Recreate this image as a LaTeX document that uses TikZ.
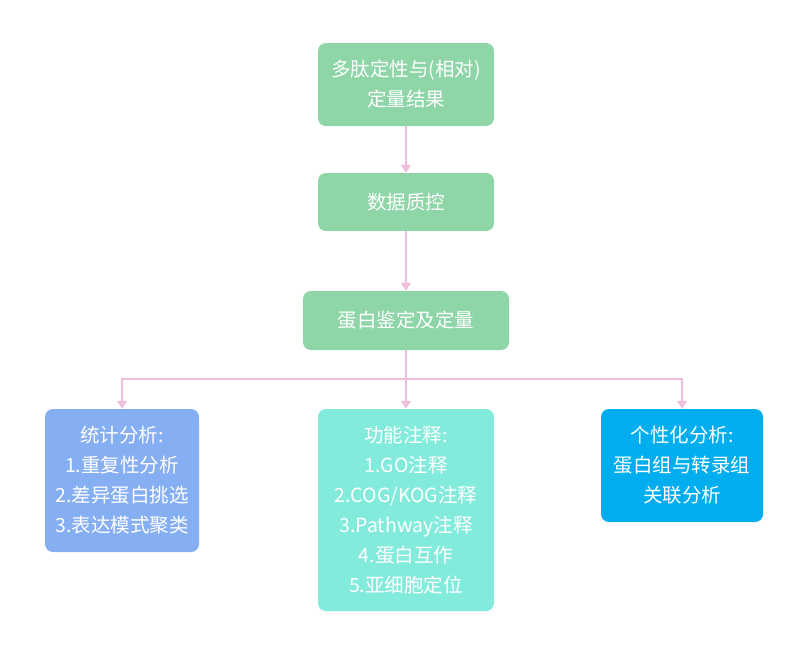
\documentclass[tikz,border=0pt]{standalone}
\usepackage{fontspec}
\setmainfont{Noto Sans CJK SC}
\usetikzlibrary{arrows.meta}

\definecolor{boxgreen}{HTML}{8ED5A8}
\definecolor{boxblue}{HTML}{86AEF3}
\definecolor{boxcyan}{HTML}{83EBDB}
\definecolor{boxsky}{HTML}{00AEEF}
\definecolor{linkpink}{HTML}{F0BEDD}

\tikzset{
  stepbox/.style={rounded corners=8pt, text=white, align=center,
    inner sep=0pt, font=\fontsize{19.5}{30}\selectfont},
  link/.style={draw=linkpink, line width=1.4pt,
    -{Triangle[width=10pt,length=8pt]}}
}

\begin{document}
\begin{tikzpicture}[x=1pt, y=-1pt]

    % Fix the page to the size of the picture
    \useasboundingbox (0,0) rectangle (800,649);

    % Define the centres of the boxes
    \coordinate (Cres)  at (406,84.5);
    \coordinate (Cqc)   at (406,202);
    \coordinate (Cid)   at (406,320.5);
    \coordinate (Cstat) at (122,480.5);
    \coordinate (Cfunc) at (406,510);
    \coordinate (Cpers) at (682,465.5);

    % Point where the three branches split
    \coordinate (split) at (406,379);

    % The main column of boxes
    \node[stepbox, fill=boxgreen, minimum width=176pt, minimum height=83pt]
      (res) at (Cres) {多肽定性与(相对)\\定量结果};
    \node[stepbox, fill=boxgreen, minimum width=176pt, minimum height=58pt]
      (qc) at (Cqc) {数据质控};
    \node[stepbox, fill=boxgreen, minimum width=206pt, minimum height=59pt]
      (id) at (Cid) {蛋白鉴定及定量};

    % The three analysis boxes
    \node[stepbox, fill=boxblue, minimum width=154pt, minimum height=143pt]
      (stat) at (Cstat) {统计分析:\\1.重复性分析\\2.差异蛋白挑选\\3.表达模式聚类};
    \node[stepbox, fill=boxcyan, minimum width=176pt, minimum height=202pt]
      (func) at (Cfunc) {功能注释:\\1.GO注释\\2.COG/KOG注释\\3.Pathway注释\\4.蛋白互作\\5.亚细胞定位};
    \node[stepbox, fill=boxsky, minimum width=162pt, minimum height=113pt]
      (pers) at (Cpers) {个性化分析:\\蛋白组与转录组\\关联分析};

    % Connectors
    \draw[link] (res) -- (qc);
    \draw[link] (qc) -- (id);
    \draw[draw=linkpink, line width=1.4pt] (id) -- (split);
    \draw[link] (split) -- (func);
    \draw[link] (split) -| (stat);
    \draw[link] (split) -| (pers);

\end{tikzpicture}
\end{document}
